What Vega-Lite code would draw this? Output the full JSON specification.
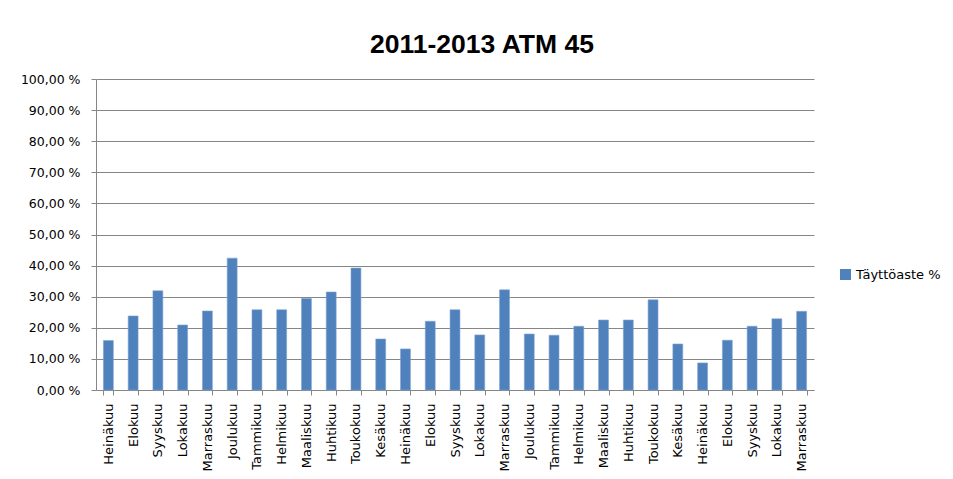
{
  "$schema": "https://vega.github.io/schema/vega-lite/v6.json",
  "autosize": "none",
  "width": 718,
  "height": 311,
  "padding": {"left": 96, "top": 79, "right": 139, "bottom": 89},
  "background": "white",
  "title": {
    "text": "2011-2013 ATM 45",
    "font": "Liberation Sans",
    "fontSize": 26.5,
    "fontWeight": "bold",
    "color": "#000000",
    "anchor": "middle",
    "frame": "group",
    "baseline": "alphabetic",
    "offset": -6,
    "dx": 27
  },
  "data": {
    "values": [
      {"kuukausi": "Heinäkuu 2011", "sarja": "Täyttöaste  %", "arvo": 15.9},
      {"kuukausi": "Elokuu 2011", "sarja": "Täyttöaste  %", "arvo": 23.8},
      {"kuukausi": "Syyskuu 2011", "sarja": "Täyttöaste  %", "arvo": 31.9},
      {"kuukausi": "Lokakuu 2011", "sarja": "Täyttöaste  %", "arvo": 20.9},
      {"kuukausi": "Marraskuu 2011", "sarja": "Täyttöaste  %", "arvo": 25.4},
      {"kuukausi": "Joulukuu 2011", "sarja": "Täyttöaste  %", "arvo": 42.4},
      {"kuukausi": "Tammikuu 2012", "sarja": "Täyttöaste  %", "arvo": 25.8},
      {"kuukausi": "Helmikuu 2012", "sarja": "Täyttöaste  %", "arvo": 25.8},
      {"kuukausi": "Maaliskuu 2012", "sarja": "Täyttöaste  %", "arvo": 29.4},
      {"kuukausi": "Huhtikuu 2012", "sarja": "Täyttöaste  %", "arvo": 31.5},
      {"kuukausi": "Toukokuu 2012", "sarja": "Täyttöaste  %", "arvo": 39.2},
      {"kuukausi": "Kesäkuu 2012", "sarja": "Täyttöaste  %", "arvo": 16.4},
      {"kuukausi": "Heinäkuu 2012", "sarja": "Täyttöaste  %", "arvo": 13.2},
      {"kuukausi": "Elokuu 2012", "sarja": "Täyttöaste  %", "arvo": 22.1},
      {"kuukausi": "Syyskuu 2012", "sarja": "Täyttöaste  %", "arvo": 25.8},
      {"kuukausi": "Lokakuu 2012", "sarja": "Täyttöaste  %", "arvo": 17.7},
      {"kuukausi": "Marraskuu 2012", "sarja": "Täyttöaste  %", "arvo": 32.2},
      {"kuukausi": "Joulukuu 2012", "sarja": "Täyttöaste  %", "arvo": 18.0},
      {"kuukausi": "Tammikuu 2013", "sarja": "Täyttöaste  %", "arvo": 17.6},
      {"kuukausi": "Helmikuu 2013", "sarja": "Täyttöaste  %", "arvo": 20.5},
      {"kuukausi": "Maaliskuu 2013", "sarja": "Täyttöaste  %", "arvo": 22.5},
      {"kuukausi": "Huhtikuu 2013", "sarja": "Täyttöaste  %", "arvo": 22.5},
      {"kuukausi": "Toukokuu 2013", "sarja": "Täyttöaste  %", "arvo": 29.0},
      {"kuukausi": "Kesäkuu 2013", "sarja": "Täyttöaste  %", "arvo": 14.8},
      {"kuukausi": "Heinäkuu 2013", "sarja": "Täyttöaste  %", "arvo": 8.7},
      {"kuukausi": "Elokuu 2013", "sarja": "Täyttöaste  %", "arvo": 16.0},
      {"kuukausi": "Syyskuu 2013", "sarja": "Täyttöaste  %", "arvo": 20.5},
      {"kuukausi": "Lokakuu 2013", "sarja": "Täyttöaste  %", "arvo": 22.9},
      {"kuukausi": "Marraskuu 2013", "sarja": "Täyttöaste  %", "arvo": 25.3}
    ]
  },
  "mark": {"type": "bar", "stroke": "#7FA3CF", "strokeWidth": 0.6},
  "encoding": {
    "x": {
      "field": "kuukausi",
      "type": "nominal",
      "sort": null,
      "scale": {"paddingInner": 0.6, "paddingOuter": 0.3},
      "axis": {
        "title": null,
        "labelAngle": -90,
        "labelAlign": "right",
        "labelBaseline": "middle",
        "labelExpr": "split(datum.label, ' ')[0]",
        "labelFont": "DejaVu Sans",
        "labelFontSize": 13,
        "labelColor": "#000000",
        "labelPadding": 8,
        "tickBand": "extent",
        "tickSize": 5,
        "tickColor": "#868686",
        "domainColor": "#868686",
        "labelOverlap": false
      }
    },
    "y": {
      "field": "arvo",
      "type": "quantitative",
      "scale": {"domain": [0, 100], "nice": false},
      "axis": {
        "title": null,
        "values": [0, 10, 20, 30, 40, 50, 60, 70, 80, 90, 100],
        "labelExpr": "replace(format(datum.value, '.2f'), '.', ',') + ' %'",
        "labelFont": "DejaVu Sans",
        "labelFontSize": 12.5,
        "labelColor": "#000000",
        "labelPadding": 11,
        "tickSize": 5,
        "tickColor": "#868686",
        "domainColor": "#868686",
        "gridColor": "#868686",
        "gridWidth": 1,
        "labelOverlap": false
      }
    },
    "color": {
      "field": "sarja",
      "type": "nominal",
      "scale": {"range": ["#4F81BD"]},
      "legend": {
        "title": null,
        "orient": "none",
        "legendX": 743,
        "legendY": 189,
        "symbolType": "square",
        "symbolSize": 121,
        "symbolStrokeWidth": 0,
        "labelFont": "DejaVu Sans",
        "labelFontSize": 13,
        "labelColor": "#000000",
        "labelOffset": 4,
        "padding": 0
      }
    }
  },
  "config": {
    "view": {"stroke": null},
    "axis": {"domainWidth": 1, "tickWidth": 1}
  }
}
